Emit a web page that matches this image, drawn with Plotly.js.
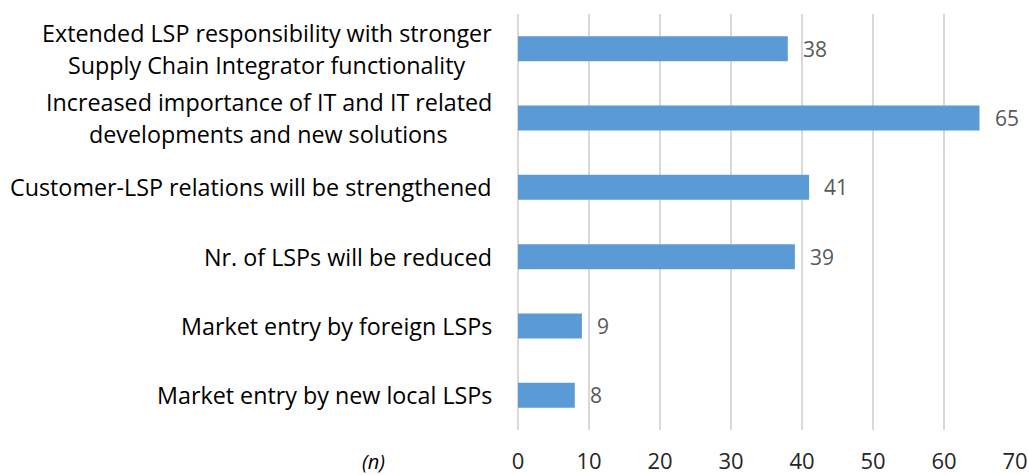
<!DOCTYPE html>
<html><head><meta charset="utf-8">
<script src="https://cdn.plot.ly/plotly-3.0.1.min.js"></script>
<style>html,body{margin:0;padding:0;background:#fff}#c{width:1029px;height:475px}</style>
</head><body><div id="c"></div>
<script>
const categories = [
  "Extended LSP responsibility with stronger<br>Supply Chain Integrator functionality",
  "Increased importance of IT and IT related<br>developments and new solutions",
  "Customer-LSP relations will be strengthened",
  "Nr. of LSPs will be reduced",
  "Market entry by foreign LSPs",
  "Market entry by new local LSPs"
];
const values = [38, 65, 41, 39, 9, 8];
const xTicks = [0, 10, 20, 30, 40, 50, 60, 70];
const xLabel = "(n)";

const FONT = "Open Sans, sans-serif";
const ids = categories.map((c, i) => "c" + i);

const annotations = [];
categories.forEach((c, i) => {
  const lines = c.split("<br>");
  const n = lines.length;
  lines.forEach((ln, j) => {
    annotations.push({
      xref: "paper", yref: "y", x: 0, y: ids[i], xanchor: "center",
      xshift: 0, yshift: ((n - 1) / 2 - j) * 32,
      text: ln, showarrow: false,
      font: {family: FONT, size: 23.3, color: "#000"}
    });
  });
  annotations.push({
    xref: "x", yref: "y", x: values[i], y: ids[i], xanchor: "left", xshift: 13,
    text: String(values[i]), showarrow: false,
    font: {family: FONT, size: 21, color: "#595959"}
  });
});
annotations.push({
  xref: "paper", yref: "paper", x: (373 - 518) / (1029 - 518 - 14), y: 0, yanchor: "middle", yshift: -31,
  xanchor: "center",
  text: "<i>" + xLabel + "</i>", showarrow: false,
  font: {family: FONT, size: 20, color: "#000"}
});

Plotly.newPlot("c", [{
  type: "bar", orientation: "h", x: values, y: ids,
  marker: {color: "#5B9BD5"}, hoverinfo: "none"
}], {
  width: 1029, height: 475,
  margin: {l: 518, r: 14, t: 14, b: 45},
  paper_bgcolor: "#fff", plot_bgcolor: "#fff",
  bargap: 0.64, showlegend: false,
  xaxis: {range: [0, 70], tickvals: xTicks, showgrid: true, gridcolor: "#d9d9d9", gridwidth: 1.5,
    zeroline: true, zerolinecolor: "#d9d9d9", zerolinewidth: 1.5, showline: false, ticks: "",
    ticklabelstandoff: 16,
    tickfont: {family: FONT, size: 22, color: "#262626"}, fixedrange: true},
  yaxis: {type: "category", autorange: "reversed", showticklabels: false, showgrid: false, zeroline: false, ticks: ""},
  annotations: annotations
}, {staticPlot: true}).then(gd => {
  const anns = gd.layout.annotations.slice();
  const nodes = gd.querySelectorAll(".annotation");
  const widths = Array.from(nodes).map(n => n.querySelector("text").getBBox().width);
  let k = 0;
  const RIGHT = 492 - 518;
  const plotW = 1029 - 518 - 14;
  categories.forEach((c, i) => {
    const n = c.split("<br>").length;
    let maxW = 0;
    for (let j = 0; j < n; j++) maxW = Math.max(maxW, widths[k + j]);
    for (let j = 0; j < n; j++) anns[k + j].x = (RIGHT - maxW / 2) / plotW;
    k += n + 1;
  });
  Plotly.relayout(gd, {annotations: anns});
});
</script></body></html>
